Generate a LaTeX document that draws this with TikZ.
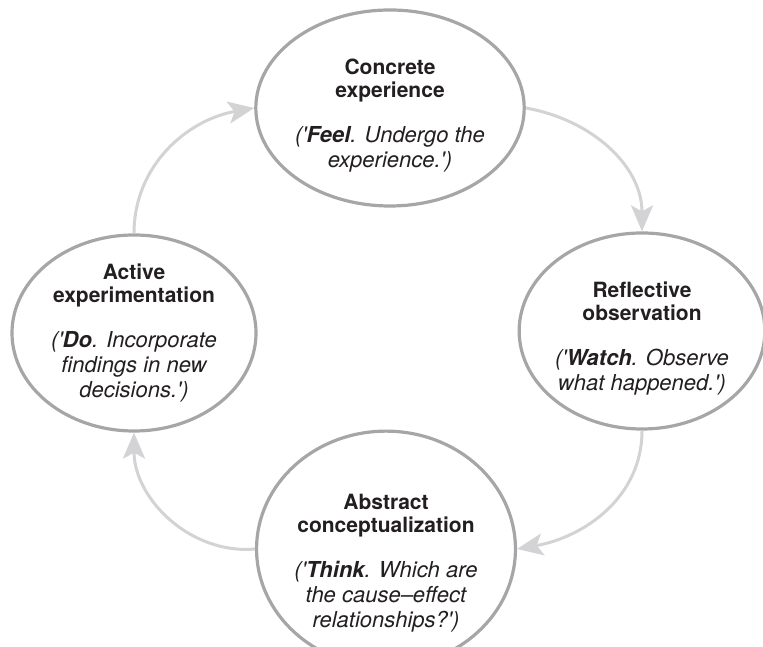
\documentclass[tikz,border=0pt]{standalone}
\usepackage{fontspec}
\setmainfont{TeX Gyre Heros}
\usetikzlibrary{arrows.meta, shapes.geometric}

\definecolor{rimgrey}{HTML}{A6A6A9}
\definecolor{cyclegrey}{HTML}{D3D3D5}
\definecolor{inkblack}{HTML}{231F20}

% one line of the bold title (optional strut pushes the text down), one line of the italic gloss
\newcommand{\stagehead}[2][0pt]{{\bfseries\rule{0pt}{#1}#2}}
\newcommand{\stagegloss}[1]{{\itshape\fontsize{11}{12.5}\selectfont #1}}
\newcommand{\sq}{\textquotesingle}

\begin{document}
\begin{tikzpicture}[
      x=0.5pt, y=0.5pt,
      font=\fontsize{10.5}{12.5}\selectfont,
      stage/.style={ellipse, draw=rimgrey, line width=1.6pt, align=center, text=inkblack,
                    minimum width=122pt, minimum height=98pt, inner sep=0pt},
      arrow/.style={-{Stealth[length=13pt, width=11pt, inset=3pt]}, draw=cyclegrey, line width=1.5pt}
    ]

    \useasboundingbox (0,0) rectangle (763,646);

    \node[stage] (conc) at (390,538) {\stagehead[15pt]{Concrete}\\[-1pt]\stagehead{experience}\\[10pt]
      \stagegloss{(\sq\textbf{Feel}. Undergo the}\\\stagegloss{experience.\sq)}};

    \node[stage] (refl) at (642,315) {\stagehead[15pt]{Reflective}\\[-1pt]\stagehead{observation}\\[10pt]
      \stagegloss{(\sq\textbf{Watch}. Observe}\\\stagegloss{what happened.\sq)}};

    \node[stage] (abst) at (386,97) {\stagehead[22pt]{Abstract}\\[-1pt]\stagehead{conceptualization}\\[10pt]
      \stagegloss{(\sq\textbf{Think}. Which are}\\\stagegloss{the cause--effect}\\\stagegloss{relationships?\sq)}};

    \node[stage] (actv) at (134,313) {\stagehead{Active}\\[-1pt]\stagehead{experimentation}\\[10pt]
      \stagegloss{(\sq\textbf{Do}. Incorporate}\\\stagegloss{findings in new}\\\stagegloss{decisions.\sq)}};

    \draw[arrow] (conc.east) to[out=-10, in=90] (refl.north);
    \draw[arrow] (refl.south) to[out=-90, in=10] (abst.east);
    \draw[arrow] (abst.west) to[out=185, in=-90] (actv.south);
    \draw[arrow] (actv.north) to[out=90, in=190] (conc.west);

    \end{tikzpicture}
\end{document}
